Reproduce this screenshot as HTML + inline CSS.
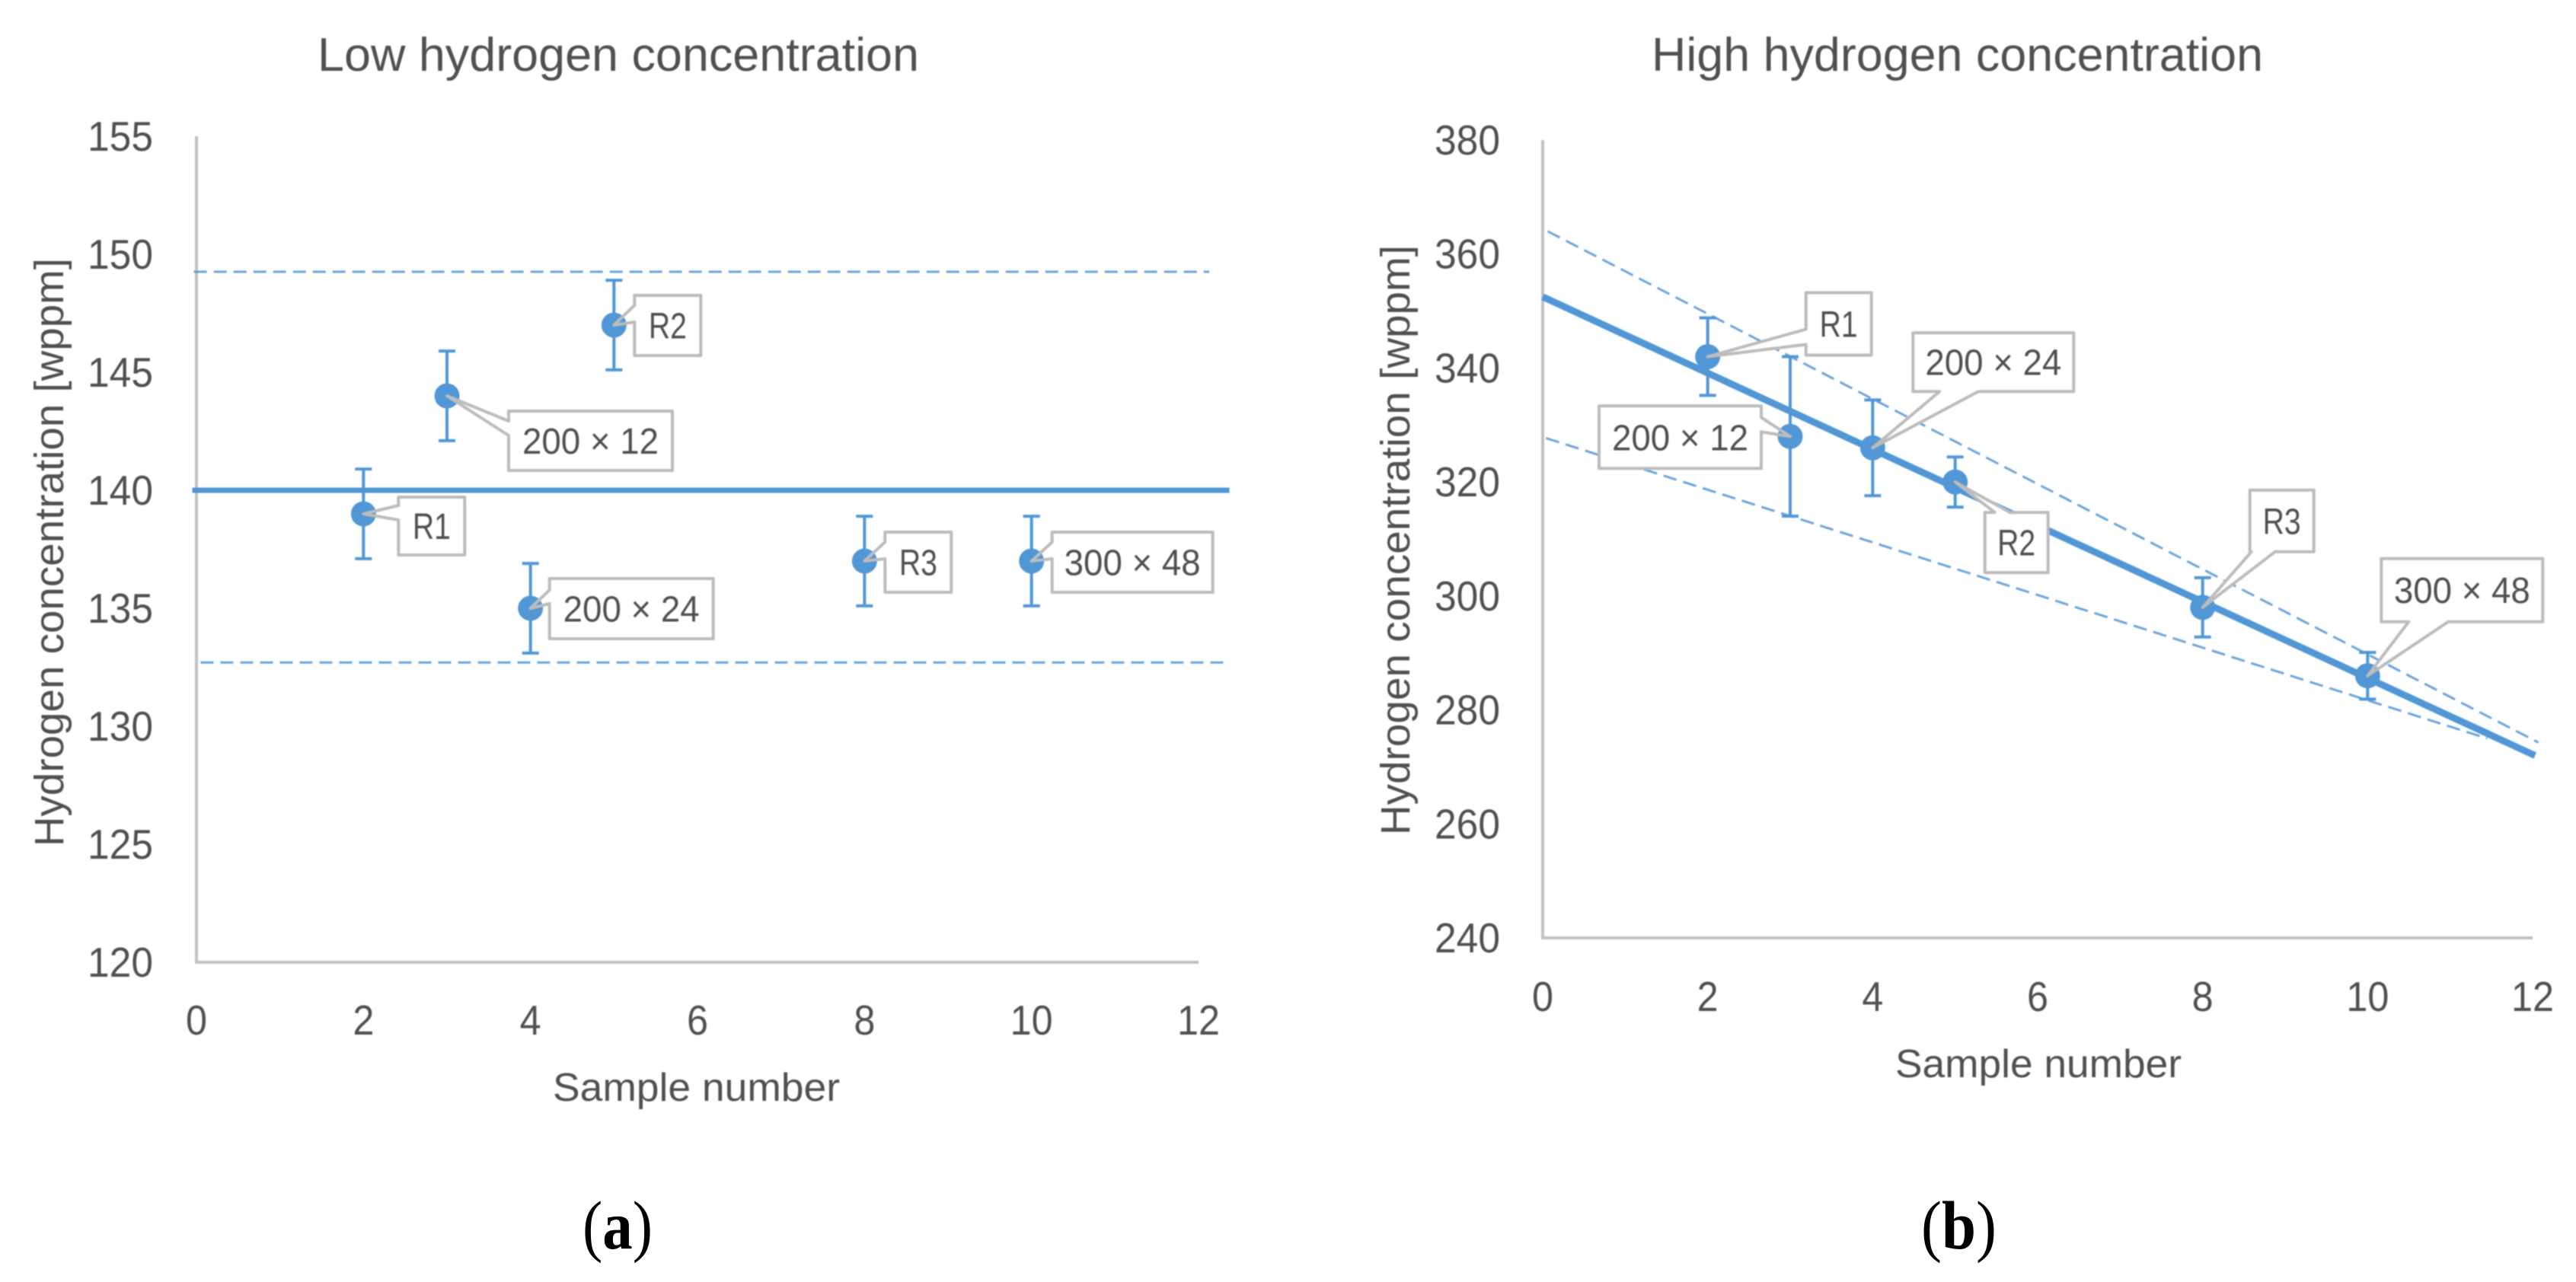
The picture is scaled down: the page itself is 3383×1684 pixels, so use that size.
<!DOCTYPE html>
<html lang="en">
<head>
<meta charset="utf-8">
<title>Hydrogen concentration charts</title>
<style>
html,body{margin:0;padding:0;background:#fff;width:3383px;height:1684px;overflow:hidden}
svg{display:block}
text{font-family:"Liberation Sans",sans-serif;fill:#505050}
.cap{font-family:"Liberation Serif",serif;fill:#000}
.soft{filter:blur(0.8px)}
</style>
</head>
<body>
<svg id="figure" xmlns="http://www.w3.org/2000/svg" width="3383" height="1684" viewBox="0 0 3383 1684">
  <rect x="0" y="0" width="3383" height="1684" fill="#ffffff"/>
  <g id="panel-a" class="soft">
    <text x="417" y="93" font-size="62" textLength="790" lengthAdjust="spacingAndGlyphs">Low hydrogen concentration</text>
    <text transform="translate(83,1112) rotate(-90)" x="0" y="0" font-size="54" textLength="773" lengthAdjust="spacingAndGlyphs">Hydrogen concentration [wppm]</text>
    <text x="726" y="1446" font-size="52" textLength="377" lengthAdjust="spacingAndGlyphs">Sample number</text>
  </g>
  <g id="panel-b" class="soft">
    <text x="2169" y="93" font-size="62" textLength="803" lengthAdjust="spacingAndGlyphs">High hydrogen concentration</text>
    <text transform="translate(1851,1097) rotate(-90)" x="0" y="0" font-size="54" textLength="775" lengthAdjust="spacingAndGlyphs">Hydrogen concentration [wppm]</text>
    <text x="2489" y="1415" font-size="52" textLength="376" lengthAdjust="spacingAndGlyphs">Sample number</text>
  </g>
  <text class="cap" x="765" y="1640" font-size="90" textLength="92" lengthAdjust="spacingAndGlyphs">(<tspan font-weight="bold" class="cap">a</tspan>)</text>
  <text class="cap" x="2523" y="1640" font-size="90" textLength="99" lengthAdjust="spacingAndGlyphs">(<tspan font-weight="bold" class="cap">b</tspan>)</text>
</svg>
<script>
// ---- shared ----
const xTicks = [0, 2, 4, 6, 8, 10, 12];
const sampleNumbers = [2, 3, 4, 5, 8, 10];
const sampleLabels = ['R1', '200 × 12', '200 × 24', 'R2', 'R3', '300 × 48'];

// ---- low hydrogen concentration ----
const lowYTicks = [120, 125, 130, 135, 140, 145, 150, 155];
const lowValues = [139, 144, 135, 147, 137, 137];
const lowErrors = [1.9, 1.9, 1.9, 1.9, 1.9, 1.9];
const lowFitX = [-0.05, 12.37];
const lowFitY = [140, 140];
const lowUpperX = [-0.03, 12.13];
const lowUpperY = [149.26, 149.26];
const lowLowerX = [0.05, 12.37];
const lowLowerY = [132.7, 132.7];

// ---- high hydrogen concentration ----
const highYTicks = [240, 260, 280, 300, 320, 340, 360, 380];
const highValues = [342, 328, 326, 320, 298, 286];
const highErrors = [6.8, 14, 8.4, 4.4, 5.2, 4.1];
const highFitX = [0, 12.03];
const highFitY = [352.5, 272];
const highUpperX = [0.06, 12.07];
const highUpperY = [364, 274.3];
const highLowerX = [0.04, 11.45];
const highLowerY = [327.7, 275];

const SVG_NS = 'http://www.w3.org/2000/svg';
const BLUE = '#5197d6';
const AXIS = '#bfc2c4';

function el(parent, tag, attrs) {
  const node = document.createElementNS(SVG_NS, tag);
  for (const k in attrs) node.setAttribute(k, attrs[k]);
  parent.appendChild(node);
  return node;
}

// callout placement relative to the marker: dx, dy, w, h, side, wedge start, wedge end
const lowCallouts = [
  [46, -22, 87, 76, 'left', 11, 30],
  [81, 20, 215, 78, 'left', 13, 32],
  [25, -39, 215, 79, 'left', 15, 33],
  [27, -39, 87, 79, 'left', 13, 35],
  [27, -38, 87, 79, 'left', 13, 35],
  [27, -38, 211, 79, 'left', 13, 35]
];
const highCallouts = [
  [129, -84, 86, 82, 'left', 48, 68],
  [-251, -40, 213, 82, 'right', 15, 34],
  [53, -151, 211, 77, 'bottom', 35, 86],
  [39, 40, 83, 79, 'top', 13, 33],
  [62, -154, 84, 81, 'bottom', 2, 33],
  [18, -154, 212, 83, 'bottom', 36, 88]
];

function calloutPath(tx, ty, c) {
  const x = tx + c[0], y = ty + c[1], w = c[2], h = c[3], side = c[4], a = c[5], b = c[6];
  const pts = [[x, y]];
  if (side === 'top') pts.push([x + a, y], [tx, ty], [x + b, y]);
  pts.push([x + w, y]);
  if (side === 'right') pts.push([x + w, y + a], [tx, ty], [x + w, y + b]);
  pts.push([x + w, y + h]);
  if (side === 'bottom') pts.push([x + b, y + h], [tx, ty], [x + a, y + h]);
  pts.push([x, y + h]);
  if (side === 'left') pts.push([x, y + b], [tx, ty], [x, y + a]);
  return 'M' + pts.map(p => p[0].toFixed(1) + ' ' + p[1].toFixed(1)).join('L') + 'Z';
}

function drawPanel(cfg) {
  const root = document.getElementById(cfg.id);
  const sx = v => cfg.x0 + (v - xTicks[0]) * (cfg.x1 - cfg.x0) / (xTicks[xTicks.length - 1] - xTicks[0]);
  const yMin = cfg.yTicks[0], yMax = cfg.yTicks[cfg.yTicks.length - 1];
  const sy = v => cfg.y0 - (v - yMin) * (cfg.y0 - cfg.y1) / (yMax - yMin);

  // axes
  const yAxis = el(root, 'line', {x1: cfg.x0, x2: cfg.x0, y1: cfg.y1, y2: cfg.y0 + 2, stroke: AXIS, 'stroke-width': 4});
  
  
  const xAxis = el(root, 'line', {x1: cfg.x0, x2: cfg.x1, y1: cfg.y0, y2: cfg.y0, stroke: AXIS, 'stroke-width': 4});
  
  

  // tick labels
  cfg.yTicks.forEach(v => {
    const t = el(root, 'text', {x: cfg.yLabelEnd, y: sy(v) + 19, 'font-size': 55, 'text-anchor': 'end', textLength: 86, lengthAdjust: 'spacingAndGlyphs'});
    t.textContent = String(v);
    
    
  });
  xTicks.forEach(v => {
    const s = String(v);
    const t = el(root, 'text', {x: sx(v), y: cfg.xLabelBase, 'font-size': 55, 'text-anchor': 'middle', textLength: s.length * 28, lengthAdjust: 'spacingAndGlyphs'});
    t.textContent = s;
    
    
  });

  // bounds
  const upper = el(root, 'line', {x1: sx(cfg.upperX[0]), x2: sx(cfg.upperX[1]), y1: sy(cfg.upperY[0]), y2: sy(cfg.upperY[1]), stroke: BLUE, 'stroke-width': cfg.dashW, 'stroke-dasharray': cfg.dash, opacity: 0.85});
  
  
  const lower = el(root, 'line', {x1: sx(cfg.lowerX[0]), x2: sx(cfg.lowerX[1]), y1: sy(cfg.lowerY[0]), y2: sy(cfg.lowerY[1]), stroke: BLUE, 'stroke-width': cfg.dashW, 'stroke-dasharray': cfg.dash, opacity: 0.85});
  
  

  // fit
  const fit = el(root, 'line', {x1: sx(cfg.fitX[0]), x2: sx(cfg.fitX[1]), y1: sy(cfg.fitY[0]), y2: sy(cfg.fitY[1]), stroke: BLUE, 'stroke-width': cfg.fitW});
  
  

  // error bars
  sampleNumbers.forEach((n, i) => {
    const px = sx(n), hi = sy(cfg.values[i] + cfg.errors[i]), lo = sy(cfg.values[i] - cfg.errors[i]);
    const bar = el(root, 'path', {
      d: `M${px} ${hi}V${lo}M${px - 11} ${hi}H${px + 11}M${px - 11} ${lo}H${px + 11}`,
      fill: 'none', stroke: BLUE, 'stroke-width': 4
    });
    
    
  });

  // callout backgrounds sit below the markers so the wedge does not cut into them
  sampleNumbers.forEach((n, i) => {
    const bg = el(root, 'path', {d: calloutPath(sx(n), sy(cfg.values[i]), cfg.callouts[i]), fill: '#ffffff', stroke: 'none'});
    
    
  });

  // markers
  sampleNumbers.forEach((n, i) => {
    const dot = el(root, 'circle', {cx: sx(n), cy: sy(cfg.values[i]), r: 16.5, fill: BLUE});
    
    
  });

  // callout outlines and labels
  sampleNumbers.forEach((n, i) => {
    const tx = sx(n), ty = sy(cfg.values[i]), c = cfg.callouts[i];
    const g = el(root, 'g', {});
    
    
    el(g, 'path', {d: calloutPath(tx, ty, c), fill: 'none', stroke: '#bcbcbc', 'stroke-width': 4, 'stroke-linejoin': 'round'});
    const t = el(g, 'text', {
      x: tx + c[0] + c[2] / 2, y: ty + c[1] + c[3] / 2 + 17, 'font-size': 48,
      'text-anchor': 'middle', textLength: sampleLabels[i].length > 2 ? 179 : 50, lengthAdjust: 'spacingAndGlyphs'
    });
    t.textContent = sampleLabels[i];
    
    
  });
}

drawPanel({
  id: 'panel-a', key: 'low', x0: 258, x1: 1574, y0: 1264, y1: 179,
  yTicks: lowYTicks, values: lowValues, errors: lowErrors,
  fitX: lowFitX, fitY: lowFitY, upperX: lowUpperX, upperY: lowUpperY, lowerX: lowLowerX, lowerY: lowLowerY,
  callouts: lowCallouts, yLabelEnd: 201, xLabelBase: 1359, fitW: 7, dashW: 3, dash: '17 9'
});
drawPanel({
  id: 'panel-b', key: 'high', x0: 2026, x1: 3326, y0: 1232, y1: 184,
  yTicks: highYTicks, values: highValues, errors: highErrors,
  fitX: highFitX, fitY: highFitY, upperX: highUpperX, upperY: highUpperY, lowerX: highLowerX, lowerY: highLowerY,
  callouts: highCallouts, yLabelEnd: 1970, xLabelBase: 1328, fitW: 9, dashW: 3, dash: '18 9'
});
</script>
</body>
</html>
